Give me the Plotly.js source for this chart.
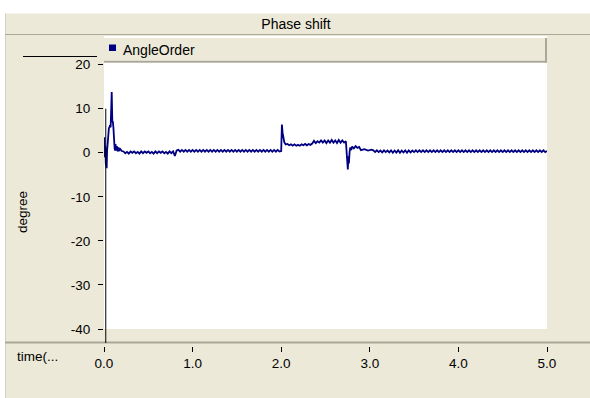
<!DOCTYPE html>
<html>
<head>
<meta charset="utf-8">
<script src="https://cdn.plot.ly/plotly-3.0.1.min.js"></script>
<style>
html,body{margin:0;padding:0;background:#fff;}
#chart{width:590px;height:398px;}
</style>
</head>
<body>
<div id="chart"></div>
<script>
// ---- data ----
const seriesName = 'AngleOrder';
const chartTitle = 'Phase shift';
const yTitle = 'degree';
const xTitle = 'time(...';

// time (s) / angle (degree) segments
const tStart   = [0, 0.005, 0.01, 0.015, 0.02, 0.03, 0.035, 0.045, 0.055, 0.065, 0.075, 0.087, 0.094, 0.099, 0.106, 0.113, 0.12, 0.125, 0.13, 0.135, 0.145, 0.155, 0.165, 0.175, 0.185, 0.2];
const vStart   = [0, 3.5, -1.0, 1.5, -2.5, -3.5, 0.5, 3.5, 5.5, 6.0, 5.8, 13.8, 7.0, 7.2, 5.8, 1.5, 1.0, 0.5, 2.0, 0.5, 1.5, 0.3, 1.2, 0.6, 0.8, 0.4];

const tSettle1 = [0.22, 0.24, 0.26, 0.28, 0.30, 0.32, 0.34, 0.36, 0.38, 0.40,
                  0.42, 0.44, 0.46, 0.48, 0.50, 0.52, 0.54, 0.56, 0.58, 0.60,
                  0.62, 0.64, 0.66, 0.68, 0.70, 0.72, 0.74, 0.76, 0.78, 0.80, 0.82];
const vSettle1 = [0.3, -0.1, 0.2, -0.2, 0.3, 0.0, 0.3, -0.1, 0.2, -0.2,
                  0.3, -0.1, 0.3, 0.0, 0.3, -0.1, 0.2, -0.2, 0.3, -0.1,
                  0.3, 0.0, 0.3, -0.1, 0.2, -0.2, 0.3, -0.1, 0.3, -0.7, 0.5];

const tFlat1 = [0.84, 0.86, 0.88, 0.90, 0.92, 0.94, 0.96, 0.98, 1.00, 1.02,
                1.04, 1.06, 1.08, 1.10, 1.12, 1.14, 1.16, 1.18, 1.20, 1.22,
                1.24, 1.26, 1.28, 1.30, 1.32, 1.34, 1.36, 1.38, 1.40, 1.42,
                1.44, 1.46, 1.48, 1.50, 1.52, 1.54, 1.56, 1.58, 1.60, 1.62,
                1.64, 1.66, 1.68, 1.70, 1.72, 1.74, 1.76, 1.78, 1.80, 1.82,
                1.84, 1.86, 1.88, 1.90, 1.92, 1.94, 1.96, 1.98];
const vFlat1 = [0.65, 0.25, 0.65, 0.25, 0.65, 0.25, 0.65, 0.25, 0.65, 0.25,
                0.65, 0.25, 0.65, 0.25, 0.65, 0.25, 0.65, 0.25, 0.65, 0.25,
                0.65, 0.25, 0.65, 0.25, 0.65, 0.25, 0.65, 0.25, 0.65, 0.25,
                0.65, 0.25, 0.65, 0.25, 0.65, 0.25, 0.65, 0.25, 0.65, 0.25,
                0.65, 0.25, 0.65, 0.25, 0.65, 0.25, 0.65, 0.25, 0.65, 0.25,
                0.65, 0.25, 0.65, 0.25, 0.65, 0.25, 0.65, 0.3];

const tStep2 = [2.00, 2.008, 2.016, 2.025, 2.035, 2.05,
                2.07, 2.09, 2.11, 2.13, 2.15, 2.17, 2.19, 2.21, 2.23, 2.25, 2.27, 2.29, 2.31, 2.33, 2.35];
const vStep2 = [0.4, 6.4, 4.5, 3.0, 2.4, 1.9,
                2.0, 1.7, 1.9, 1.6, 1.9, 1.6, 1.8, 1.6, 1.9, 1.7, 2.0, 1.7, 2.0, 1.8, 2.1];

const tPlateau = [2.37, 2.39, 2.41, 2.43, 2.45, 2.47, 2.49, 2.51, 2.53, 2.55,
                  2.57, 2.59, 2.61, 2.63, 2.65, 2.67, 2.69, 2.71, 2.73];
const vPlateau = [2.7, 2.2, 2.6, 2.3, 2.8, 2.3, 2.8, 2.2, 2.8, 2.3,
                  2.9, 2.3, 2.8, 2.2, 2.9, 2.3, 2.8, 2.3, 2.6];

const tDrop = [2.746, 2.752, 2.758, 2.764, 2.772, 2.78, 2.79, 2.80, 2.82, 2.84, 2.86, 2.88, 2.90, 2.94, 2.98, 3.02];
const vDrop = [-1.2, -3.8, -0.8, -2.4, 0.2, 1.2, 0.6, 1.4, 1.0, 1.5, 1.1, 1.3, 0.6, 0.8, 0.5, 0.7];

const tFlat2 = [3.04, 3.06, 3.08, 3.10, 3.12, 3.14, 3.16, 3.18, 3.20, 3.22,
                3.24, 3.26, 3.28, 3.30, 3.32, 3.34, 3.36, 3.38, 3.40, 3.42,
                3.44, 3.46, 3.48, 3.50, 3.52, 3.54, 3.56, 3.58, 3.60, 3.62,
                3.64, 3.66, 3.68, 3.70, 3.72, 3.74, 3.76, 3.78, 3.80, 3.82,
                3.84, 3.86, 3.88, 3.90, 3.92, 3.94, 3.96, 3.98, 4.00, 4.02,
                4.04, 4.06, 4.08, 4.10, 4.12, 4.14, 4.16, 4.18, 4.20, 4.22,
                4.24, 4.26, 4.28, 4.30, 4.32, 4.34, 4.36, 4.38, 4.40, 4.42,
                4.44, 4.46, 4.48, 4.50, 4.52, 4.54, 4.56, 4.58, 4.60, 4.62,
                4.64, 4.66, 4.68, 4.70, 4.72, 4.74, 4.76, 4.78, 4.80, 4.82,
                4.84, 4.86, 4.88, 4.90, 4.92, 4.94, 4.96, 4.98, 5.00];
const vFlat2 = [0.55, 0.15, 0.55, 0.15, 0.5, 0.1, 0.55, 0.15, 0.5, 0.1,
                0.55, 0.0, 0.5, 0.05, 0.55, 0.0, 0.5, 0.1, 0.55, 0.0,
                0.55, 0.1, 0.5, 0.15, 0.55, 0.15, 0.55, 0.15, 0.55, 0.15,
                0.55, 0.15, 0.55, 0.15, 0.55, 0.15, 0.55, 0.15, 0.55, 0.15,
                0.55, 0.15, 0.55, 0.15, 0.55, 0.15, 0.55, 0.15, 0.55, 0.15,
                0.55, 0.15, 0.55, 0.15, 0.55, 0.15, 0.55, 0.15, 0.55, 0.15,
                0.55, 0.15, 0.55, 0.15, 0.55, 0.15, 0.55, 0.15, 0.55, 0.15,
                0.55, 0.15, 0.55, 0.15, 0.55, 0.15, 0.55, 0.15, 0.55, 0.15,
                0.55, 0.15, 0.55, 0.15, 0.55, 0.15, 0.55, 0.15, 0.55, 0.15,
                0.55, 0.15, 0.55, 0.15, 0.55, 0.15, 0.55, 0.15, 0.4];

// cursor line seen in the reference (time, top value)
const cursorTime = 0.02;
const cursorTop = 10;

// axes
const xTickVals = [0, 1, 2, 3, 4, 5];
const xTickText = ['0.0', '1.0', '2.0', '3.0', '4.0', '5.0'];
const yTickVals = [-40, -30, -20, -10, 0, 10, 20];
const yTickText = ['-40', '-30', '-20', '-10', '0', '10', '20'];
const xRange = [0, 5];
const yRange = [-40, 26.5];

// ---- build ----
const time = [].concat(tStart, tSettle1, tFlat1, tStep2, tPlateau, tDrop, tFlat2);
const angle = [].concat(vStart, vSettle1, vFlat1, vStep2, vPlateau, vDrop, vFlat2);

const W = 590, H = 398;
const L = 104, R = 43, T = 36, B = 52;
const PW = W - L - R, PH = H - T - B;
const px2x = p => (p - L) / PW;
const px2y = p => (T + PH - p) / PH;
const domLow = px2y(329);

const BEIGE = '#ECE9D8', GREY = '#ACA899', NAVY = '#000080';
const FONT = 'Liberation Sans, Arial, sans-serif';

const cursorXp = (cursorTime - xRange[0]) / (xRange[1] - xRange[0]);
const cursorYp = domLow + (cursorTop - yRange[0]) / (yRange[1] - yRange[0]) * (1 - domLow);

function rect(x0, y0, x1, y1, fill, layer) {
  return {type: 'rect', xref: 'paper', yref: 'paper', x0: px2x(x0), x1: px2x(x1), y0: px2y(y0), y1: px2y(y1),
          fillcolor: fill, line: {width: 0}, layer: layer || 'above'};
}
function hline(x0, x1, y, color, w) {
  return {type: 'line', xref: 'paper', yref: 'paper', x0: px2x(x0), x1: px2x(x1), y0: px2y(y), y1: px2y(y),
          line: {color: color, width: w || 1}, layer: 'above'};
}

const shapes = [
  rect(0, 0, 590, 13.5, '#ffffff', 'below'),
  rect(0, 0, 5, 398, '#ffffff', 'below'),
  {type: 'line', xref: 'paper', yref: 'paper', x0: px2x(5.5), x1: px2x(5.5), y0: px2y(13.5), y1: px2y(398), line: {color: '#D6D2C2', width: 1}, layer: 'above'},
  hline(5, 590, 34.5, GREY, 1),
  hline(5, 590, 342.5, GREY, 2),
  // legend panel
  rect(104, 38, 545, 60.7, BEIGE),
  rect(545, 38, 547, 62.7, GREY),
  rect(104, 60.7, 547, 62.7, GREY),
  rect(109, 44.5, 116, 51, NAVY),
  // black marker lines
  hline(23, 97, 56.5, '#000000', 1),
  {type: 'line', xref: 'paper', yref: 'paper', x0: cursorXp, x1: cursorXp, y0: cursorYp, y1: px2y(343),
   line: {color: '#000000', width: 1}, layer: 'above'}
];

const annotations = [
  {text: seriesName, xref: 'paper', yref: 'paper', x: px2x(120.5), y: px2y(50), xanchor: 'left', yanchor: 'middle',
   showarrow: false, font: {family: FONT, size: 14, color: '#000'}},
  {text: xTitle, xref: 'paper', yref: 'paper', x: px2x(15), y: px2y(356), xanchor: 'left', yanchor: 'middle',
   showarrow: false, font: {family: FONT, size: 13.5, color: '#000'}},
  {text: yTitle, xref: 'paper', yref: 'paper', x: px2x(22), y: px2y(212), xanchor: 'center', yanchor: 'middle',
   textangle: -90, showarrow: false, font: {family: FONT, size: 13.5, color: '#000'}}
];

const data = [{
  x: time, y: angle, type: 'scatter', mode: 'lines', name: seriesName,
  line: {color: NAVY, width: 1.8}, showlegend: false
}];

const layout = {
  width: W, height: H,
  margin: {l: L, r: R, t: T, b: B, pad: 0},
  paper_bgcolor: BEIGE,
  plot_bgcolor: '#ffffff',
  font: {family: FONT, size: 13.5, color: '#000'},
  title: {text: chartTitle, x: 296 / W, xref: 'container', xanchor: 'center', y: 1 - 24.5 / H, yref: 'container', yanchor: 'middle',
          font: {family: FONT, size: 14, color: '#000'}},
  showlegend: false,
  xaxis: {range: xRange, anchor: 'free', position: 0, tickvals: xTickVals, ticktext: xTickText,
          ticks: 'outside', ticklen: 5, tickwidth: 1, tickcolor: '#000', showgrid: false, zeroline: false, showline: false,
          tickfont: {family: FONT, size: 13.5, color: '#000'}, fixedrange: true},
  yaxis: {range: yRange, domain: [domLow, 1], tickvals: yTickVals, ticktext: yTickText,
          ticks: 'outside', ticklen: 5, tickwidth: 1, tickcolor: '#000', showgrid: false, zeroline: false, showline: false,
          ticklabelstandoff: 5,
          tickfont: {family: FONT, size: 13.5, color: '#000'}, fixedrange: true},
  shapes: shapes,
  annotations: annotations
};

Plotly.newPlot('chart', data, layout, {staticPlot: true, displayModeBar: false});
</script>
</body>
</html>
